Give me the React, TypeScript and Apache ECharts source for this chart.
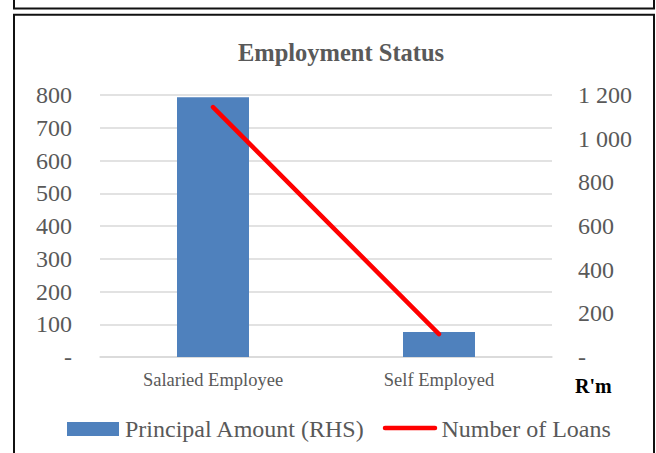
import React, { useEffect, useRef } from "react";
import * as echarts from "echarts";

const categories = ["Salaried Employee", "Self Employed"];
const principalAmount = [1190, 115];
const numberOfLoans = [763, 70];
const seriesNames = ["Principal Amount (RHS)", "Number of Loans"];
const leftTicks = { min: 0, max: 800, interval: 100 };
const rightTicks = { min: 0, max: 1200, interval: 200 };
const titleText = "Employment Status";
const unitLabel = "R'm";

const SERIF = "Liberation Serif";
const GRAY = "#595959";
const BLUE = "#4f81bd";
const RED = "#ff0000";

function fmtSpace(v: number): string {
  if (v === 0) return "-";
  return String(v).replace(/\B(?=(\d{3})+(?!\d))/g, " ");
}

export default function App() {
  const ref = useRef<HTMLDivElement>(null);
  useEffect(() => {
    if (!ref.current) return;
    const chart = echarts.init(ref.current, undefined, { renderer: "svg" });
    chart.setOption({
      animation: false,
      backgroundColor: "#ffffff",
      textStyle: { fontFamily: SERIF },
      title: {
        text: titleText,
        left: 336,
        textAlign: "center",
        top: 35,
        textStyle: { fontFamily: SERIF, fontWeight: "bold", fontSize: 24.5, color: GRAY },
      },
      grid: { left: 100, right: 104, top: 95, bottom: 96, containLabel: false },
      xAxis: {
        type: "category",
        data: categories,
        axisLine: { lineStyle: { color: "#d9d9d9", width: 1.5 } },
        axisTick: { show: false },
        axisLabel: { fontFamily: SERIF, fontSize: 18.5, color: GRAY, margin: 13 },
      },
      yAxis: [
        {
          type: "value",
          min: leftTicks.min,
          max: leftTicks.max,
          interval: leftTicks.interval,
          axisLine: { show: false },
          axisTick: { show: false },
          splitLine: { lineStyle: { color: "#d9d9d9", width: 1.5 } },
          axisLabel: { fontFamily: SERIF, fontSize: 24, color: GRAY, margin: 28, formatter: fmtSpace },
        },
        {
          type: "value",
          min: rightTicks.min,
          max: rightTicks.max,
          interval: rightTicks.interval,
          axisLine: { show: false },
          axisTick: { show: false },
          splitLine: { show: false },
          axisLabel: { fontFamily: SERIF, fontSize: 24, color: GRAY, margin: 26, formatter: fmtSpace },
        },
      ],
      series: [
        {
          name: seriesNames[0],
          type: "bar",
          yAxisIndex: 1,
          data: principalAmount,
          barWidth: 72,
          itemStyle: { color: BLUE },
        },
        {
          name: seriesNames[1],
          type: "line",
          yAxisIndex: 0,
          data: numberOfLoans,
          symbol: "none",
          itemStyle: { color: RED },
          lineStyle: { color: RED, width: 4.5, cap: "round" },
        },
      ],
      graphic: [
        {
          type: "rect",
          shape: { x: 14, y: -10, width: 640, height: 18.5 },
          style: { fill: "none", stroke: "#111", lineWidth: 2 },
          silent: true,
        },
        {
          type: "rect",
          shape: { x: 14, y: 14.7, width: 640, height: 460 },
          style: { fill: "none", stroke: "#111", lineWidth: 2 },
          silent: true,
        },
        {
          type: "text",
          x: 575,
          y: 386,
          style: {
            text: unitLabel,
            fontFamily: SERIF,
            fontSize: 20,
            fontWeight: "bold",
            fill: "#000",
            verticalAlign: "middle",
          },
        },
        // legend
        {
          type: "rect",
          shape: { x: 67, y: 422, width: 52, height: 14 },
          style: { fill: BLUE },
          silent: true,
        },
        {
          type: "text",
          x: 125,
          y: 429,
          style: {
            text: seriesNames[0],
            fontFamily: SERIF,
            fontSize: 24,
            fill: GRAY,
            verticalAlign: "middle",
          },
        },
        {
          type: "line",
          shape: { x1: 385, y1: 428, x2: 435, y2: 428 },
          style: { stroke: RED, lineWidth: 4.5, lineCap: "round" },
          silent: true,
        },
        {
          type: "text",
          x: 441.5,
          y: 429,
          style: {
            text: seriesNames[1],
            fontFamily: SERIF,
            fontSize: 24,
            fill: GRAY,
            verticalAlign: "middle",
          },
        },
      ],
    });
    return () => chart.dispose();
  }, []);
  return (
    <div
      ref={ref}
      style={{ position: "fixed", left: 0, top: 0, width: 656, height: 453 }}
    />
  );
}
